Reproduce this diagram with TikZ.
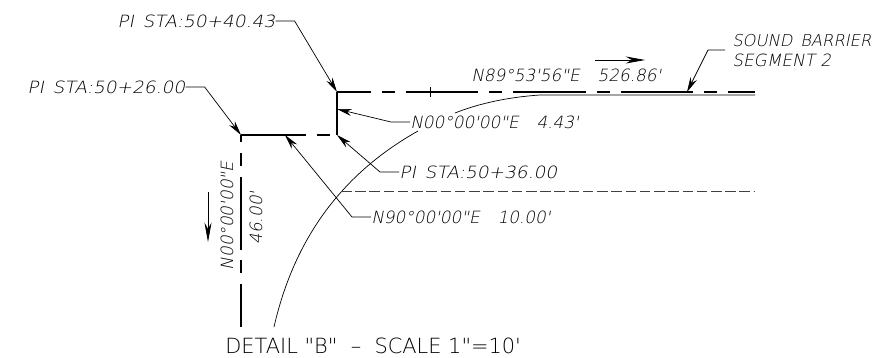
\documentclass[tikz,border=0pt]{standalone}
\usepackage{fontspec}
\newfontfamily\cadfont[FakeSlant=0.2,FakeStretch=1.1]{DejaVu Sans ExtraLight}
\newfontfamily\brgfont[FakeSlant=0.2]{DejaVu Sans ExtraLight}
\newfontfamily\capfont{DejaVu Sans ExtraLight}
\usetikzlibrary{arrows.meta}
\tikzset{
    note/.style={inner sep=0pt, font=\cadfont\fontsize{9.6}{11}\selectfont},
    brg/.style={inner sep=0pt, font=\brgfont\fontsize{9.6}{11}\selectfont},
    leader/.style={line width=0.4pt, -{Stealth[length=8.5pt,width=4pt]}},
    barrier/.style={line width=1.3pt, dash pattern=on 41.4pt off 6.2pt on 7.4pt off 6.2pt},
    road/.style={line width=0.4pt}
}

\begin{document}
\begin{tikzpicture}[x=0.02cm,y=-0.02cm]
    \useasboundingbox (0,0) rectangle (875,358);

    % Points on the barrier
    \coordinate (pia) at (241,135);
    \coordinate (pib) at (337,135);
    \coordinate (pic) at (337,92);
    \coordinate (barend) at (755,92);
    \coordinate (baseend) at (241,327);
    \coordinate (midhor) at (285,135);
    \coordinate (midver) at (337,109);
    \coordinate (segpt) at (687,92);

    % Barrier
    \draw[barrier, dash phase=4.5pt] (pia) -- (pib);
    \draw[line width=1.3pt] (pib) -- (pic);
    \draw[barrier, dash phase=22.1pt] (pic) -- (barend);
    \draw[barrier, dash phase=37.4pt] (pia) -- (baseend);
    \draw[line width=0.4pt] (430,87) -- (430,97);

    % Road edges
    \draw[road] (274,327) .. controls (295,235) and (345,172) .. (418,131);
    \draw[road] (455,113) .. controls (480,103) and (510,97) .. (540,95) -- (755,95);
    \draw[road, gray!50!black, dash pattern=on 6pt off 2.1pt] (341,191.5) -- (755,191.5);

    % Labels
    \node[note, anchor=west] (pitop) at (117,21) {PI\, STA:50+40.43};
    \node[note, anchor=west] (pileft) at (27,87) {PI\, STA:50+26.00};
    \node[note, anchor=west] (pimid) at (399,172) {PI\, STA:50+36.00};
    \node[brg, anchor=west] (brgver) at (410,122) {N00°00'00"E\quad\hspace{0.5pt}4.43'};
    \node[brg, anchor=west] (brghor) at (371,217) {N90°00'00"E\quad\hspace{0.5pt}10.00'};
    \node[brg, anchor=west] (brgtop) at (471,75) {N89°53'56"E\quad\hspace{0.5pt}526.86'};
    \node[brg, anchor=west, font=\brgfont\fontsize{9.3}{11}\selectfont] (seg) at (732,41) {SOUND\, BARRIER};
    \node[brg, anchor=west] (segb) at (732,60) {SEGMENT 2};
    \node[brg, rotate=90] (brgdown) at (227,216) {N00°00'00"E};
    \node[brg, rotate=90] (dist) at (256,218) {46.00'};
    \node[inner sep=0pt, anchor=west, font=\capfont\fontsize{11.9}{14}\selectfont] (title) at (225,346) {DETAIL "B"\ \ –\ \ SCALE 1"=10'};

    % Leaders
    \draw[leader] (pitop.east) -- ++(19,0) -- (pic);
    \draw[leader] (pileft.east) -- ++(19,0) -- (pia);
    \draw[leader] (pimid.west) -- ++(-19,0) -- (pib);
    \draw[leader] (brgver.west) -- ++(-19,0) -- (midver);
    \draw[leader] (brghor.west) -- ++(-19,0) -- (midhor);
    \draw[leader] (seg.west |- 0,50) ++(-7,0) coordinate (segstart) -- ++(-17,0) -- (segpt);

    % Direction arrows
    \coordinate (tailh) at (595,60);
    \coordinate (headh) at (645,60);
    \coordinate (tailv) at (208,192);
    \coordinate (headv) at (208,242);
    \draw[leader, -{Stealth[length=11pt,width=4pt]}] (tailh) -- (headh);
    \draw[leader, -{Stealth[length=11pt,width=4pt]}] (tailv) -- (headv);
\end{tikzpicture}
\end{document}
